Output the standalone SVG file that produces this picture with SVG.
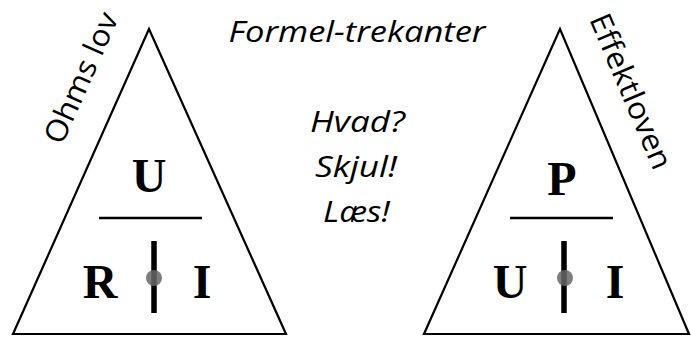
<svg xmlns="http://www.w3.org/2000/svg" width="691" height="340" viewBox="0 0 691 340">
<style>
.tri{fill:none;stroke:#000;stroke-width:2.2;stroke-linejoin:miter}
.hl{stroke:#000;stroke-width:2.5}
.vl{stroke:#000;stroke-width:5.5}
.dot{fill:#666;fill-opacity:0.85}
.big{font-family:"Liberation Serif",serif;font-weight:bold;font-size:48px;fill:#000;text-anchor:middle}
.it{font-family:"Open Sans",Lato,sans-serif;font-style:italic;font-size:30px;fill:#000;text-anchor:middle}
.lab{font-family:"Open Sans",Lato,sans-serif;font-size:30px;fill:#000}
</style>
<g id="title"><text class="it" x="357" y="42" textLength="257" lengthAdjust="spacingAndGlyphs">Formel-trekanter</text></g>
<g id="hint">
<text class="it" x="357.5" y="132" textLength="95" lengthAdjust="spacingAndGlyphs">Hvad?</text>
<text class="it" x="356" y="177" textLength="82" lengthAdjust="spacingAndGlyphs">Skjul!</text>
<text class="it" x="356.5" y="222" textLength="67" lengthAdjust="spacingAndGlyphs">Læs!</text>
</g>
<g id="ohm">
<polygon class="tri" points="149,29 13,334 286,334"/>
<line class="hl" x1="99" y1="218" x2="202" y2="218"/>
<line class="vl" x1="154" y1="241" x2="154" y2="313"/>
<circle class="dot" cx="154" cy="278" r="8"/>
<text class="big" x="149" y="192">U</text>
<text class="big" x="100" y="298">R</text>
<text class="big" x="202" y="298">I</text>
<text class="lab" transform="translate(62,146) rotate(-66)" textLength="140" lengthAdjust="spacingAndGlyphs">Ohms lov</text>
</g>
<g id="effekt">
<polygon class="tri" points="560,29 424,334 689,334"/>
<line class="hl" x1="510" y1="218" x2="613" y2="218"/>
<line class="vl" x1="564" y1="241" x2="564" y2="313"/>
<circle class="dot" cx="565" cy="278" r="8"/>
<text class="big" x="562" y="195">P</text>
<text class="big" x="510" y="298">U</text>
<text class="big" x="615" y="298">I</text>
<text class="lab" transform="translate(589,19) rotate(67)" textLength="166" lengthAdjust="spacingAndGlyphs">Effektloven</text>
</g>
</svg>
